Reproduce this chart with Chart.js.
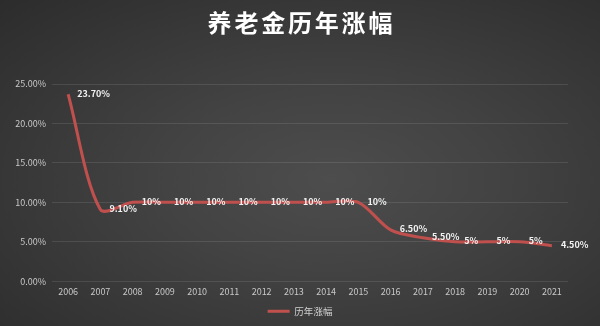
<!DOCTYPE html>
<html>
<head>
<meta charset="utf-8">
<script src="https://cdn.jsdelivr.net/npm/chart.js@4"></script>
<style>
  html, body { margin: 0; padding: 0; }
  body {
    width: 600px; height: 326px; overflow: hidden;
    background: radial-gradient(ellipse at 55% 55%, #4d4d4d 0%, #434343 35%, #2c2c2c 100%);
  }
  #wrap { width: 600px; height: 326px; position: relative; }
</style>
</head>
<body>
<div id="wrap"><canvas id="pensionChart"></canvas></div>
<script>
// Years and yearly pension increase (%)
const years = ["2006", "2007", "2008", "2009", "2010", "2011", "2012", "2013",
  "2014", "2015", "2016", "2017", "2018", "2019", "2020", "2021"];
const increase = [23.7, 9.1, 10, 10, 10, 10, 10, 10, 10, 10, 6.5, 5.5, 5, 5, 5, 4.5];
const pointLabels = ["23.70%", "9.10%", "10%", "10%", "10%", "10%", "10%", "10%",
  "10%", "10%", "6.50%", "5.50%", "5%", "5%", "5%", "4.50%"];
const chartTitle = "养老金历年涨幅";

const FONT = "'Noto Sans CJK SC', 'Noto Sans', sans-serif";

// title is spaced out a bit, so draw it char by char
const titleText = {
  id: "titleText",
  afterDraw(chart) {
    const ctx = chart.ctx;
    const chars = Array.from(chartTitle);
    const pitch = 26.8;
    const cx = chart.width / 2;
    ctx.save();
    ctx.font = "bold 24px " + FONT;
    ctx.fillStyle = "#ffffff";
    ctx.textAlign = "center";
    ctx.textBaseline = "middle";
    chars.forEach((c, i) => {
      ctx.fillText(c, cx + (i - (chars.length - 1) / 2) * pitch, 23);
    });
    ctx.restore();
  },
};

// draws the value next to each point
const valueLabels = {
  id: "valueLabels",
  afterDatasetsDraw(chart) {
    const ctx = chart.ctx;
    const meta = chart.getDatasetMeta(0);
    ctx.save();
    ctx.font = "bold 9px " + FONT;
    ctx.fillStyle = "#f2f2f2";
    ctx.textAlign = "left";
    ctx.textBaseline = "middle";
    meta.data.forEach((pt, i) => {
      ctx.fillText(pointLabels[i], pt.x + 9, pt.y - 1);
    });
    ctx.restore();
  },
};

new Chart(document.getElementById("pensionChart").getContext("2d"), {
  type: "line",
  data: {
    labels: years,
    datasets: [
      {
        label: "历年涨幅",
        data: increase,
        borderColor: "#c0504d",
        backgroundColor: "#c0504d",
        borderWidth: 3,
        tension: 0.3,
        pointRadius: 0,
        yAxisID: "y",
      },
    ],
  },
  options: {
    responsive: true,
    maintainAspectRatio: false,
    animation: false,
    layout: { padding: { left: 0, right: 0, top: 84, bottom: 0 } },
    plugins: {
      title: { display: false },
      legend: {
        position: "bottom",
        labels: {
          color: "#d0d0d0",
          font: { family: FONT, size: 9.5 },
          usePointStyle: true,
          pointStyle: "line",
          pointStyleWidth: 22,
          boxHeight: 3,
          padding: 4.5,
        },
      },
      tooltip: { enabled: false },
    },
    scales: {
      x: {
        offset: true,
        grid: { display: false, drawTicks: false },
        border: { display: false },
        ticks: { color: "#c8c8c8", font: { family: FONT, size: 9 }, maxRotation: 0, padding: 5 },
      },
      y: {
        min: 0,
        max: 25,
        afterFit: (s) => { s.width = 52; },
        grid: { color: "rgba(255,255,255,0.10)", drawTicks: false },
        border: { display: false },
        ticks: {
          stepSize: 5,
          color: "#c8c8c8",
          font: { family: FONT, size: 9 },
          padding: 6,
          callback: (v) => v.toFixed(2) + "%",
        },
      },
      // empty spacer on the right
      yRight: {
        position: "right",
        afterFit: (s) => { s.width = 32; },
        grid: { display: false },
        border: { display: false },
        ticks: { display: false },
      },
    },
  },
  plugins: [valueLabels, titleText],
});
</script>
</body>
</html>
